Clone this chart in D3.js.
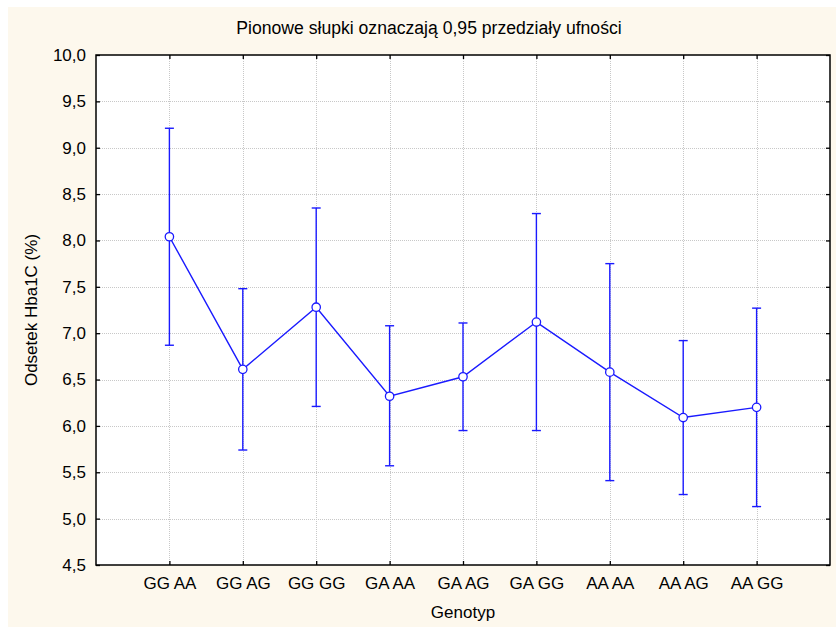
<!DOCTYPE html>
<html>
<head>
<meta charset="utf-8">
<script src="https://cdn.jsdelivr.net/npm/d3@7"></script>
<style>
  body { margin: 0; background: #ffffff; }
  svg { display: block; font-family: "Liberation Sans", Arial, sans-serif; }
</style>
</head>
<body>
<svg id="chart" width="836" height="627"></svg>
<script>
// Genotype groups and mean HbA1c with 0.95 confidence limits
const categories = ["GG AA", "GG AG", "GG GG", "GA AA", "GA AG", "GA GG", "AA AA", "AA AG", "AA GG"];
const means = [8.04, 6.61, 7.28, 6.32, 6.53, 7.12, 6.58, 6.09, 6.20];
const upper = [9.21, 7.48, 8.35, 7.08, 7.11, 8.29, 7.75, 6.92, 7.27];
const lower = [6.87, 5.74, 6.21, 5.57, 5.95, 5.95, 5.41, 5.26, 5.13];
const yTicks = [4.5, 5.0, 5.5, 6.0, 6.5, 7.0, 7.5, 8.0, 8.5, 9.0, 9.5, 10.0];

const W = 836, H = 627;
const m = { left: 96, right: 830, top: 55, bottom: 565 };
const blue = "#1a1aff";
const fs = 17;
const svg = d3.select("#chart");

// panel background
svg.append("rect").attr("x", 8).attr("y", 7).attr("width", W - 8).attr("height", H - 7)
  .attr("fill", "#fdf8ed");

const x = d3.scaleLinear().domain([0, categories.length + 1]).range([m.left, m.right]);
const y = d3.scaleLinear().domain([4.5, 10]).range([m.bottom, m.top]);
const fmt = v => d3.format(".1f")(v).replace(".", ",");

// plot area
svg.append("rect").attr("x", m.left).attr("y", m.top)
  .attr("width", m.right - m.left).attr("height", m.bottom - m.top).attr("fill", "#ffffff");

// grid
const grid = svg.append("g").attr("stroke", "#c8c8c8").attr("stroke-width", 1).attr("stroke-dasharray", "1,1");
grid.selectAll("line.h").data(yTicks.slice(1, -1)).join("line")
  .attr("x1", m.left).attr("x2", m.right)
  .attr("y1", d => Math.round(y(d)) + 0.5).attr("y2", d => Math.round(y(d)) + 0.5);
grid.selectAll("line.v").data(categories).join("line")
  .attr("y1", m.top).attr("y2", m.bottom)
  .attr("x1", (d, i) => Math.round(x(i + 1)) + 0.5).attr("x2", (d, i) => Math.round(x(i + 1)) + 0.5);

// axes with inward ticks on all four sides
const idx = d3.range(1, categories.length + 1);
const yLeft = d3.axisLeft(y).tickValues(yTicks).tickSize(-4).tickPadding(10).tickFormat(fmt);
const yRight = d3.axisRight(y).tickValues(yTicks).tickSize(-4).tickFormat("");
const xBottom = d3.axisBottom(x).tickValues(idx).tickSize(-4).tickPadding(12)
  .tickFormat(i => categories[i - 1]);
const xTop = d3.axisTop(x).tickValues(idx).tickSize(-4).tickFormat("");

function style(g) {
  g.select(".domain").remove();
  g.selectAll(".tick line").attr("stroke", "#000").attr("stroke-width", 1.3);
  g.selectAll(".tick text").attr("fill", "#000").attr("font-size", fs)
    .attr("font-family", "Liberation Sans, Arial, sans-serif");
}
svg.append("g").attr("transform", `translate(${m.left},0)`).call(yLeft).call(style);
svg.append("g").attr("transform", `translate(${m.right},0)`).call(yRight).call(style);
svg.append("g").attr("transform", `translate(0,${m.bottom})`).call(xBottom).call(style);
svg.append("g").attr("transform", `translate(0,${m.top})`).call(xTop).call(style);

// frame
svg.append("rect").attr("x", m.left).attr("y", m.top)
  .attr("width", m.right - m.left).attr("height", m.bottom - m.top)
  .attr("fill", "none").attr("stroke", "#000").attr("stroke-width", 1.5);

// confidence interval whiskers
const bars = svg.append("g").attr("stroke", blue).attr("stroke-width", 1.4);
categories.forEach((c, i) => {
  const cx = x(i + 1);
  bars.append("line").attr("x1", cx).attr("x2", cx).attr("y1", y(upper[i])).attr("y2", y(lower[i]));
  bars.append("line").attr("x1", cx - 4.5).attr("x2", cx + 4.5).attr("y1", y(upper[i])).attr("y2", y(upper[i]));
  bars.append("line").attr("x1", cx - 4.5).attr("x2", cx + 4.5).attr("y1", y(lower[i])).attr("y2", y(lower[i]));
});

// means line
const line = d3.line().x((d, i) => x(i + 1)).y(d => y(d));
svg.append("path").datum(means).attr("d", line)
  .attr("fill", "none").attr("stroke", blue).attr("stroke-width", 1.4);

svg.append("g").selectAll("circle").data(means).join("circle")
  .attr("cx", (d, i) => x(i + 1)).attr("cy", d => y(d)).attr("r", 4.2)
  .attr("fill", "#ffffff").attr("stroke", blue).attr("stroke-width", 1.3);

// titles
svg.append("text").attr("x", 429).attr("y", 34).attr("text-anchor", "middle")
  .attr("font-size", 17.6).text("Pionowe słupki oznaczają 0,95 przedziały ufności");
svg.append("text").attr("x", (m.left + m.right) / 2).attr("y", 618).attr("text-anchor", "middle")
  .attr("font-size", fs).text("Genotyp");
svg.append("text").attr("transform", `translate(37,${(m.top + m.bottom) / 2}) rotate(-90)`)
  .attr("text-anchor", "middle").attr("font-size", fs).text("Odsetek Hba1C (%)");
</script>
</body>
</html>
